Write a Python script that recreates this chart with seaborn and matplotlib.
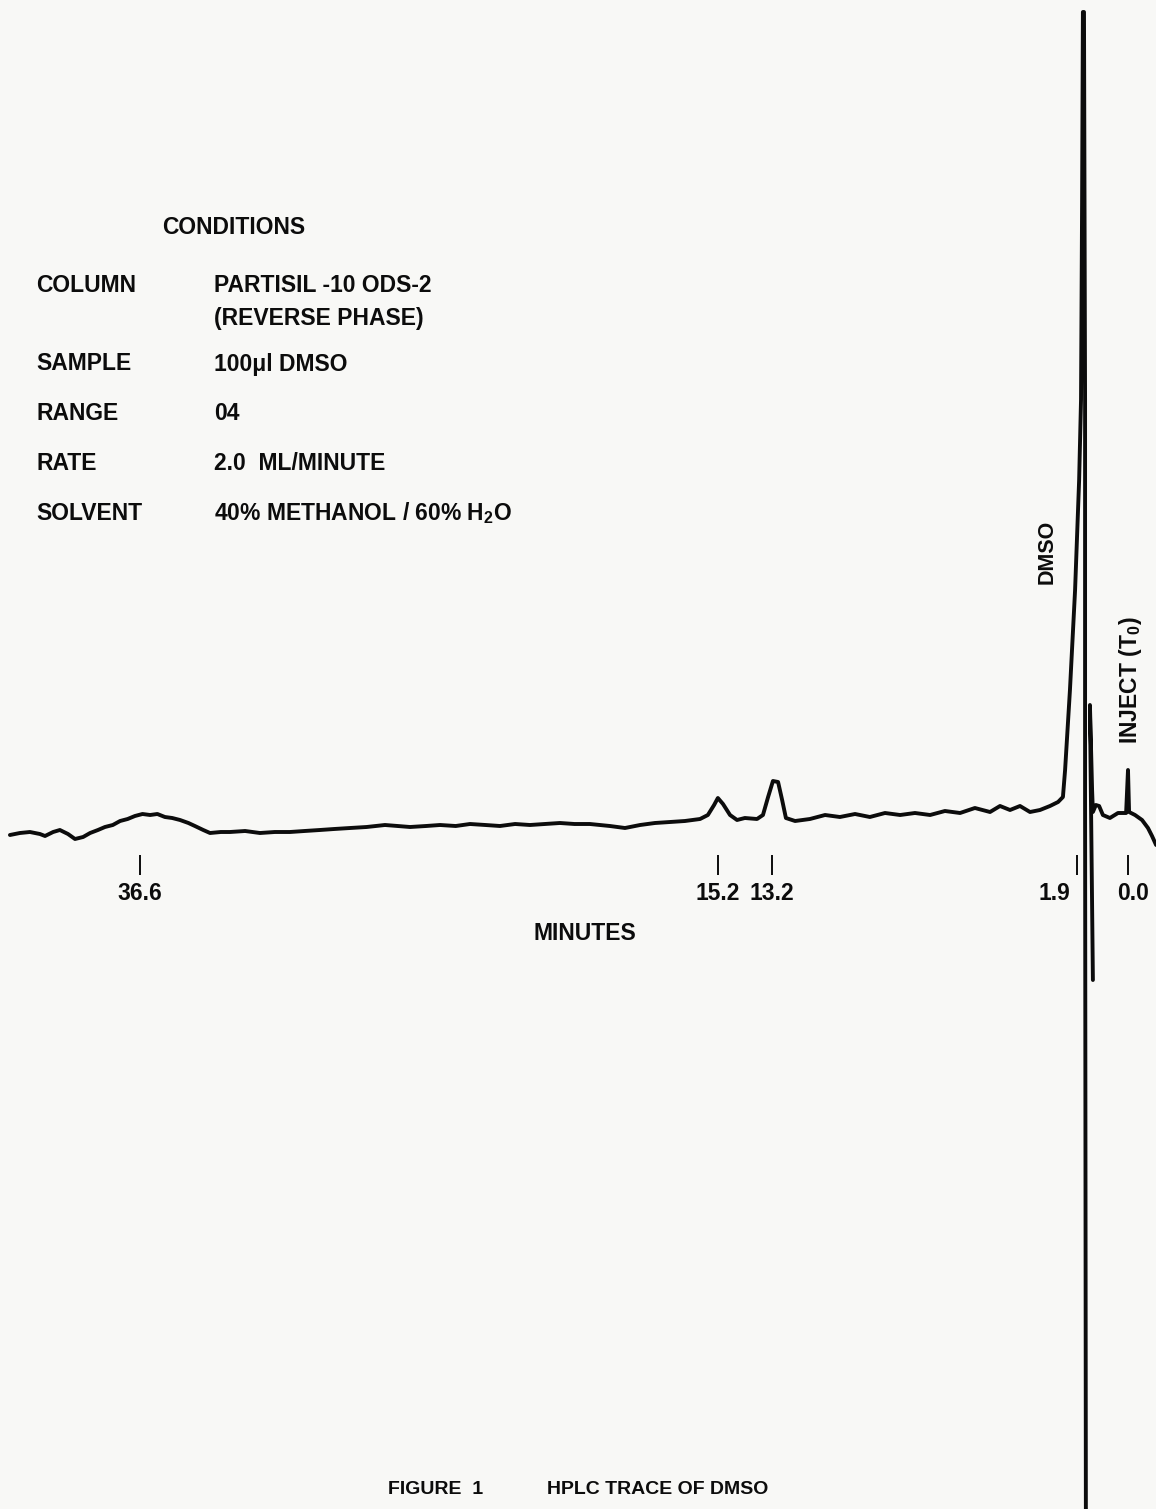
import pandas as pd
import seaborn as sns
import matplotlib.pyplot as plt

# retention time (minutes, increasing to the left) and detector response (arb. units)
# main pen stroke: late baseline -> 15.2 / 13.2 peaks -> DMSO off-scale -> negative off-scale
main_time = [41.41, 41.04, 40.67, 40.30, 40.11, 39.81, 39.56, 39.26, 39.00, 38.70,
             38.44, 38.15, 37.89, 37.60, 37.33, 37.05, 36.78, 36.50, 36.22, 35.95,
             35.67, 35.40, 35.11, 34.80, 34.56, 34.25, 34.00, 33.60, 33.26, 32.70,
             32.15, 31.60, 31.04, 30.50, 29.93, 29.40, 28.81, 28.20, 27.52, 27.05,
             26.59, 26.00, 25.48, 24.90, 24.37, 23.80, 23.26, 22.70, 22.15, 21.60,
             21.04, 20.50, 19.93, 19.19, 18.63, 18.07,
             17.52, 16.96, 16.41, 15.85, 15.56, 15.33, 15.19, 15.00, 14.74, 14.48,
             14.19, 13.74, 13.52, 13.33, 13.15, 12.96, 12.81, 12.67, 12.33, 11.78,
             11.22, 10.67, 10.11, 9.56, 9.00, 8.44, 7.89, 7.33, 6.78, 6.22,
             5.67, 5.11, 4.74, 4.37, 4.00, 3.63, 3.26, 2.89, 2.59, 2.41,
             2.33, 2.15, 1.96, 1.81, 1.74, 1.70, 1.67, 1.63, 1.59, 1.59, 1.56]
main_signal = [-0.05, -0.03, -0.02, -0.04, -0.06, -0.02, 0.00, -0.04, -0.09, -0.07,
               -0.03, 0.00, 0.03, 0.05, 0.09, 0.11, 0.14, 0.16, 0.15, 0.16,
               0.13, 0.12, 0.10, 0.07, 0.04, 0.00, -0.03, -0.02, -0.02, -0.01,
               -0.03, -0.02, -0.02, -0.01, 0.00, 0.01, 0.02, 0.03, 0.05, 0.04,
               0.03, 0.04, 0.05, 0.04, 0.06, 0.05, 0.04, 0.06, 0.05, 0.06,
               0.07, 0.06, 0.06, 0.04, 0.02, 0.05,
               0.07, 0.08, 0.09, 0.11, 0.15, 0.25, 0.32, 0.26, 0.15, 0.10,
               0.12, 0.11, 0.15, 0.33, 0.49, 0.48, 0.30, 0.12, 0.09, 0.11,
               0.15, 0.13, 0.16, 0.13, 0.17, 0.15, 0.17, 0.15, 0.19, 0.17,
               0.22, 0.18, 0.24, 0.20, 0.24, 0.18, 0.20, 0.24, 0.28, 0.33,
               0.60, 1.40, 2.40, 3.50, 4.30, 6.30, 8.18, 8.18, 4.30, 0.30, -6.90]

# second pen stroke: return from negative excursion -> inject mark -> start of run
tail_time = [1.30, 1.41, 1.33, 1.30, 1.19, 1.07, 0.93, 0.67, 0.37, 0.07,
             0.00, -0.04, -0.26, -0.52, -0.74, -0.89, -1.04]
tail_signal = [-1.50, 1.25, 0.40, 0.18, 0.25, 0.24, 0.15, 0.12, 0.17, 0.17,
               0.60, 0.18, 0.15, 0.10, 0.02, -0.06, -0.15]

marked_times = [36.6, 15.2, 13.2, 1.9, 0.0]
marked_labels = ['36.6', '15.2', '13.2', '1.9', '0.0']

cond_keys = ['COLUMN', 'SAMPLE', 'RANGE', 'RATE', 'SOLVENT']
cond_vals = ['PARTISIL -10 ODS-2\n(REVERSE PHASE)', '100\u03bcl DMSO', '04',
             '2.0  ML/MINUTE', '40% METHANOL / 60% H$_2$O']

df = pd.DataFrame({
    'time': main_time + tail_time,
    'signal': main_signal + tail_signal,
    'stroke': [0] * len(main_time) + [1] * len(tail_time),
})

sns.set_style('white')
plt.rcParams['font.family'] = ['Liberation Sans', 'DejaVu Sans']
plt.rcParams['font.weight'] = 'bold'
plt.rcParams['mathtext.fontset'] = 'custom'
plt.rcParams['mathtext.rm'] = 'Liberation Sans:bold'
plt.rcParams['mathtext.default'] = 'rm'

paper = '#f8f8f6'
ink = '#0c0c0c'
W, H = 1156, 1509

fig = plt.figure(figsize=(11.56, 15.09), dpi=100, facecolor=paper)
ax = fig.add_axes([0, 0, 1, 1])
ax.set_facecolor(paper)

sns.lineplot(data=df, x='time', y='signal', units='stroke', estimator=None,
             sort=False, color=ink, linewidth=2.8, ax=ax)

ax.set_xlim(1128 / 27, (1128 - 1156) / 27)
ax.set_ylim(-6.79, 8.30)
ax.axis('off')

# retention time marks
ax.vlines(marked_times, -0.25, -0.45, color=ink, linewidth=1.4)
for t, lab in zip(marked_times, marked_labels):
    if lab == '1.9':
        ax.annotate(lab, xy=(t, -0.63), xytext=(-5, 0), textcoords='offset points',
                    ha='right', va='center', fontsize=16.5, color=ink)
    else:
        ax.annotate(lab, xy=(t, -0.63), xytext=(4 if lab == '0.0' else 0, 0),
                    textcoords='offset points', ha='center', va='center',
                    fontsize=16.5, color=ink)

def ftext(x, y, s, **kw):
    fig.text(x / W, 1 - y / H, s, color=ink, **kw)

ftext(162, 228, 'CONDITIONS', fontsize=16.5, va='center')
rows_y = [286, 364, 413, 464, 513]
for key, val, y in zip(cond_keys, cond_vals, rows_y):
    ftext(36, y, key, fontsize=16.5, va='center')
    if '\n' in val:
        ftext(214, y - 12, val, fontsize=16.5, va='top', linespacing=1.55)
    else:
        ftext(214, y, val, fontsize=16.5, va='center')

ftext(1047, 552, 'DMSO', fontsize=15.5, rotation=90, ha='center', va='center')
ftext(1130, 680, 'INJECT (T$_0$)', fontsize=16.5, rotation=90, ha='center', va='center')
ftext(585, 934, 'MINUTES', fontsize=16.5, ha='center', va='center')
ftext(388, 1489, 'FIGURE  1', fontsize=14, va='center')
ftext(547, 1489, 'HPLC TRACE OF DMSO', fontsize=14, va='center')

plt.savefig('out.png', dpi=100, facecolor=paper)
